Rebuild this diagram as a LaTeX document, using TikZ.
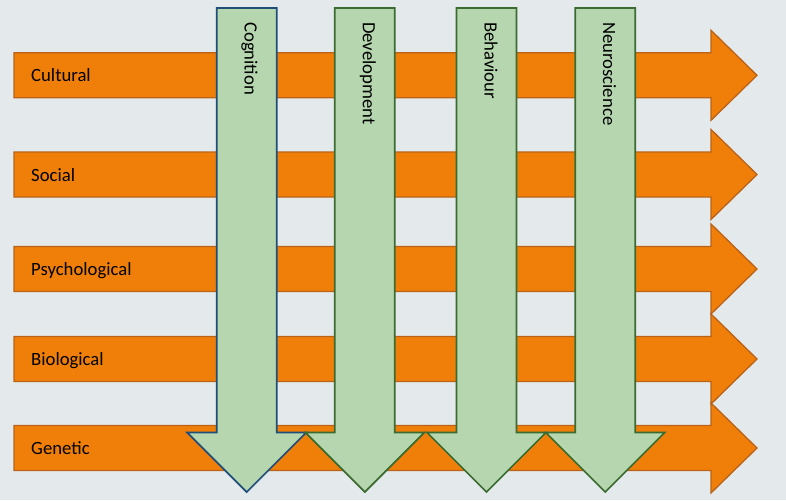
\documentclass[tikz,border=0pt]{standalone}
\usepackage{fontspec}
\setmainfont{Carlito}
\definecolor{bgcol}{HTML}{E4E9EC}
\definecolor{orfill}{HTML}{F07F0A}
\definecolor{oredge}{HTML}{BA6218}
\definecolor{grfill}{HTML}{B5D6AE}
\definecolor{blueedge}{HTML}{1F4E79}
\definecolor{greenedge}{HTML}{3B6B31}
\begin{document}
\begin{tikzpicture}[x=1pt,y=-1pt,
  orangearrow/.style={fill=orfill,draw=oredge,line width=1.3pt,line join=miter},
  greenarrow/.style={fill=grfill,line width=1.7pt,line join=miter},
  hlabel/.style={anchor=base west,inner sep=0pt,font=\fontsize{18.7}{22}\selectfont},
  vlabel/.style={anchor=base west,rotate=-90,inner sep=0pt,font=\fontsize{18.7}{22}\selectfont}]
\fill[bgcol] (0,0) rectangle (786,500);
\useasboundingbox (0,0) rectangle (786,500);
\foreach \cy/\lab/\nm in {75.3/Cultural/cul, 174.5/Social/soc, 269/Psychological/psy, 359/Biological/bio, 448/Genetic/gen} {
  \draw[orangearrow] (14,\cy-22.5) -- (711,\cy-22.5) -- (711,\cy-45) -- (757,\cy) -- (711,\cy+45) -- (711,\cy+22.5) -- (14,\cy+22.5) -- cycle;
  \node[hlabel] (\nm) at (31,\cy+6.5) {\lab};
}
\foreach \cx/\lab/\nm/\col in {246.7/Cognition/cog/blueedge, 364.8/Development/dev/greenedge, 486.5/Behaviour/beh/greenedge, 605.2/Neuroscience/neu/greenedge} {
  \draw[greenarrow,draw=\col] (\cx-30,8) -- (\cx+30,8) -- (\cx+30,432.5) -- (\cx+59.5,432.5) -- (\cx,492) -- (\cx-59.5,432.5) -- (\cx-30,432.5) -- cycle;
  \node[vlabel] (\nm) at (\cx-2,22) {\lab};
}
\end{tikzpicture}
\end{document}
